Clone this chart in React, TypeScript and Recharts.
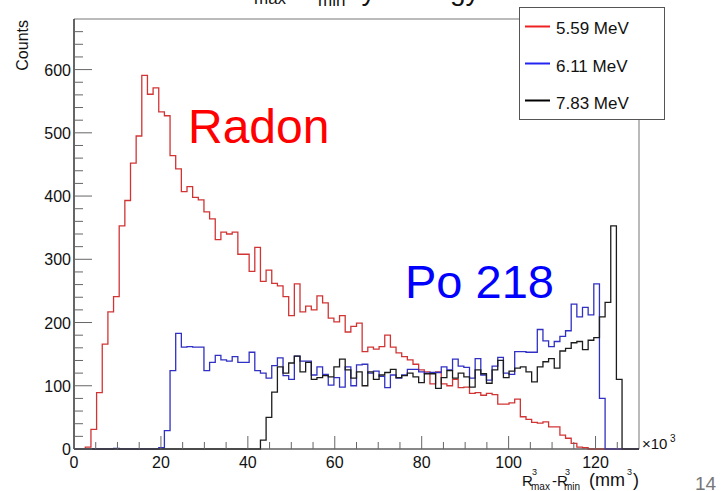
import { LineChart, Line, XAxis, YAxis, ReferenceArea, Legend } from 'recharts';

// 100 bins of 1.3 (x10^3 mm^3) from 0 to 130
const BIN_WIDTH = 1.3;

const red559 = [
  0, 0, 3, 31, 89, 166, 217, 241, 353, 393,
  452, 495, 591, 561, 571, 533, 527, 464, 443, 407,
  415, 398, 394, 375, 364, 331, 343, 340, 343, 308,
  308, 281, 319, 265, 283, 262, 258, 241, 211, 261,
  217, 226, 220, 242, 231, 207, 201, 211, 185, 194,
  199, 154, 161, 158, 162, 180, 161, 152, 146, 141,
  134, 125, 122, 103, 122, 103, 100, 110, 97, 98,
  88, 89, 85, 88, 86, 71, 71, 73, 79, 51,
  47, 42, 41, 43, 35, 35, 22, 17, 9, 3,
  2, 0, 0, 0, 0, 0, 0, 0, 0, 0,
];

const blue611 = [
  0, 0, 0, 0, 0, 0, 0, 1, 0, 0,
  0, 0, 0, 0, 0, 2, 29, 124, 183, 161,
  162, 161, 161, 124, 137, 148, 141, 139, 146, 137,
  137, 153, 124, 120, 112, 132, 144, 116, 110, 147,
  139, 139, 117, 130, 118, 101, 113, 98, 130, 100,
  133, 134, 120, 123, 115, 97, 117, 112, 117, 126,
  126, 122, 120, 121, 121, 130, 125, 142, 131, 129,
  112, 143, 117, 109, 131, 145, 120, 118, 154, 154,
  153, 153, 189, 171, 162, 170, 178, 187, 229, 209,
  224, 212, 261, 80, 0, 0, 0, 0, 0, 0,
];

const black783 = [
  0, 0, 0, 0, 0, 0, 0, 0, 0, 0,
  0, 0, 0, 0, 0, 0, 0, 0, 0, 0,
  0, 0, 0, 0, 0, 0, 0, 0, 0, 0,
  0, 0, 0, 14, 50, 90, 130, 120, 136, 147,
  122, 137, 110, 113, 116, 114, 130, 142, 125, 112,
  122, 100, 122, 110, 117, 121, 126, 113, 116, 120,
  114, 105, 119, 119, 96, 113, 124, 112, 120, 114,
  98, 125, 119, 104, 125, 140, 113, 123, 128, 130,
  122, 106, 130, 138, 143, 128, 155, 159, 168, 170,
  157, 172, 176, 209, 232, 353, 110, 0, 0, 0,
];

const xTicks = [0, 5, 10, 15, 20, 25, 30, 35, 40, 45, 50, 55, 60, 65, 70, 75, 80, 85, 90, 95, 100, 105, 110, 115, 120, 125];
const yTicks = [
  0, 20, 40, 60, 80, 100, 120, 140, 160, 180, 200, 220, 240, 260, 280, 300, 320,
  340, 360, 380, 400, 420, 440, 460, 480, 500, 520, 540, 560, 580, 600, 620, 640, 660,
];

const series = [
  { key: 'r559', name: '5.59 MeV', values: red559, stroke: '#d23434', legend: '#ee2222' },
  { key: 'b611', name: '6.11 MeV', values: blue611, stroke: '#3030c4', legend: '#2424f0' },
  { key: 'k783', name: '7.83 MeV', values: black783, stroke: '#1c1c1c', legend: '#000000' },
];

// one row per bin low edge, plus the closing edge at 130
const rows = Array.from({ length: red559.length + 1 }, (_, i) => {
  const row: Record<string, number> = { x: Number((i * BIN_WIDTH).toFixed(2)) };
  series.forEach((s) => {
    row[s.key] = i < s.values.length ? s.values[i] : 0;
  });
  return row;
});

const font = '"Liberation Sans", Arial, Helvetica, sans-serif';

const XTick = (props: any) => {
  const { x, y, payload } = props;
  const major = payload.value % 20 === 0;
  return (
    <g>
      <line x1={x} x2={x} y1={y} y2={y - (major ? 13 : 7)} stroke="#666" />
      {major && (
        <text x={x} y={y + 19} textAnchor="middle" fontSize={16} fontFamily={font} fill="#111">
          {payload.value}
        </text>
      )}
    </g>
  );
};

const YTick = (props: any) => {
  const { x, y, payload } = props;
  const major = payload.value % 100 === 0;
  return (
    <g>
      <line x1={x} x2={x + (major ? 18 : 9)} y1={y} y2={y} stroke="#666" />
      {major && (
        <text x={x - 3} y={y + 6} textAnchor="end" fontSize={16} fontFamily={font} fill="#111">
          {payload.value}
        </text>
      )}
    </g>
  );
};

const LegendBox = () => (
  <div style={{ position: 'relative', width: 146, height: 113, boxSizing: 'border-box', border: '1px solid #555', background: '#fff' }}>
    <svg width={146} height={113} style={{ position: 'absolute', left: -1, top: -1 }}>
      {series.map((s, i) => (
        <g key={s.key}>
          <line x1={6} x2={31} y1={19.5 + i * 37} y2={19.5 + i * 37} stroke={s.legend} strokeWidth={2} />
          <text x={37} y={27 + i * 37.5} fontSize={17} fontFamily={font} fill="#111">
            {s.name}
          </text>
        </g>
      ))}
    </svg>
  </div>
);

export default function App() {
  return (
    <div style={{ position: 'absolute', left: 0, top: 0, width: 725, height: 491, background: '#fff', fontFamily: font }}>
      <LineChart width={725} height={491} data={rows} margin={{ top: 19, right: 86, bottom: 12, left: 34 }}>
        <ReferenceArea x1={0} x2={130} y1={0} y2={680} fill="none" stroke="#777" strokeOpacity={1} fillOpacity={0} />
        <XAxis
          dataKey="x"
          type="number"
          domain={[0, 130]}
          ticks={xTicks}
          interval={0}
          height={30}
          tickSize={0}
          tickMargin={0}
          tickLine={false}
          tick={(p: any) => <XTick {...p} />}
          axisLine={{ stroke: '#555' }}
        />
        <YAxis
          type="number"
          domain={[0, 680]}
          ticks={yTicks}
          interval={0}
          width={40}
          tickSize={0}
          tickMargin={0}
          tickLine={false}
          tick={(p: any) => <YTick {...p} />}
          axisLine={{ stroke: '#111' }}
        />
        {series.map((s) => (
          <Line
            key={s.key}
            dataKey={s.key}
            name={s.name}
            type="stepAfter"
            stroke={s.stroke}
            strokeWidth={1.3}
            dot={false}
            activeDot={false}
            isAnimationActive={false}
          />
        ))}
        <Legend
          layout="vertical"
          align="center"
          verticalAlign="middle"
          content={LegendBox}
          wrapperStyle={{ left: 519, top: 7, width: 146, height: 113 }}
        />
      </LineChart>

      <svg width={725} height={491} style={{ position: 'absolute', left: 0, top: 0, pointerEvents: 'none' }}>
        {/* title, mostly cut off by the top of the slide */}
        <text y={0} fontSize={26} fontFamily={font} fill="#111">
          <tspan x={236}>R</tspan>
          <tspan x={254} y={4} fontSize={17}>max</tspan>
          <tspan x={291} y={0}>-R</tspan>
          <tspan x={318} y={6} fontSize={17}>min</tspan>
          <tspan x={346} y={0} fontSize={28}>by</tspan>
          <tspan x={394} y={0} fontSize={28}>energy</tspan>
        </text>

        <text transform="translate(28,20) rotate(-90)" textAnchor="end" fontSize={16} fontFamily={font} fill="#111">
          Counts
        </text>

        <text x={188} y={143} fontSize={48} fontFamily={font} fill="#ff0000">
          Radon
        </text>
        <text x={405} y={298} fontSize={47} fontFamily={font} fill="#0000ff">
          Po 218
        </text>

        <text fontSize={15} fontFamily={font} fill="#111">
          <tspan x={642} y={449}>×10</tspan>
          <tspan x={670} y={442} fontSize={10}>3</tspan>
        </text>

        <text fontFamily={font} fill="#111">
          <tspan x={522} y={486} fontSize={15}>R</tspan>
          <tspan x={532} y={475} fontSize={9}>3</tspan>
          <tspan x={531} y={490} fontSize={10}>max</tspan>
          <tspan x={552} y={486} fontSize={15}>-R</tspan>
          <tspan x={565} y={475} fontSize={9}>3</tspan>
          <tspan x={564} y={490} fontSize={10}>min</tspan>
          <tspan x={589} y={486} fontSize={18}>(mm</tspan>
          <tspan x={627} y={475} fontSize={9}>3</tspan>
          <tspan x={633} y={486} fontSize={18}>)</tspan>
        </text>

        <text x={695} y={490} fontSize={19} fontFamily={font} fill="#777">
          14
        </text>
      </svg>
    </div>
  );
}
